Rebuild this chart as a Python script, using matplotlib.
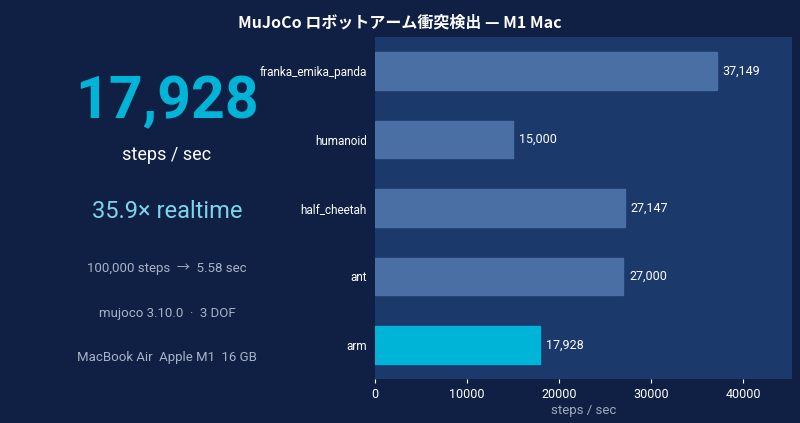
import matplotlib
matplotlib.use("Agg")
import matplotlib.pyplot as plt
from matplotlib.ticker import FixedLocator

plt.rcParams['font.family'] = ['Roboto', 'Noto Sans CJK JP', 'DejaVu Sans']

models = ["franka_emika_panda", "humanoid", "half_cheetah", "ant", "arm"]
steps_per_sec = [37149, 15000, 27147, 27000, 17928]
highlight = "arm"
xticks = [0, 10000, 20000, 30000, 40000]

title = "MuJoCo ロボットアーム衝突検出 — M1 Mac"
big_value = "17,928"
info_lines = ["100,000 steps  →  5.58 sec", "mujoco 3.10.0  ·  3 DOF", "MacBook Air  Apple M1  16 GB"]

bg = "#0f2044"
axbg = "#1b3a6b"
bar_col = "#4a6fa5"
hi_col = "#00b4d8"

fig = plt.figure(figsize=(8, 4.23), dpi=100)
fig.patch.set_facecolor(bg)
fig.suptitle(title, color="white", fontsize=11.5, fontweight="bold", y=0.965,
             family=['Noto Sans CJK JP', 'DejaVu Sans'])

ax = fig.add_axes([375/800, 1-379/423, (792-375)/800, (379-37)/423])
ax.set_facecolor(axbg)
colors = [hi_col if m == highlight else bar_col for m in models]
ypos = list(range(len(models)))
ax.barh(ypos, steps_per_sec, height=0.55, color=colors, edgecolor=colors)
ax.set_yticks(ypos)
ax.set_yticklabels(models, color="white", fontsize=8.5)
ax.set_ylim(len(models)-0.5, -0.5)
ax.set_xlim(0, max(steps_per_sec)*1.22)
ax.xaxis.set_major_locator(FixedLocator(xticks))
ax.set_xticklabels([str(t) for t in xticks], color="white", fontsize=9)
ax.set_xlabel("steps / sec", color="#a0aabb", fontsize=9.5, labelpad=2)
ax.tick_params(axis="y", length=0, pad=6)
ax.tick_params(axis="x", colors="white", length=3, labelcolor="white")
for s in ax.spines.values():
    s.set_visible(False)
for y, v in zip(ypos, steps_per_sec):
    ax.text(v + 650, y, f"{v:,}", va="center", ha="left", color="white", fontsize=9)

cx = 167/800
fig.text(cx, 1-102/423, big_value, color=hi_col, fontsize=42.5, fontweight="bold", ha="center", va="center")
fig.text(cx, 1-155/423, "steps / sec", color="white", fontsize=13, ha="center", va="center")
fig.text(cx, 1-212/423, "35.9× realtime", color="#7fd3ea", fontsize=17, ha="center", va="center")
for yy, line in zip([268, 313, 357], info_lines):
    fig.text(cx, 1-yy/423, line, color="#a8b2c6", fontsize=9.5, ha="center", va="center")

fig.savefig("out.png", dpi=100, facecolor=bg)
